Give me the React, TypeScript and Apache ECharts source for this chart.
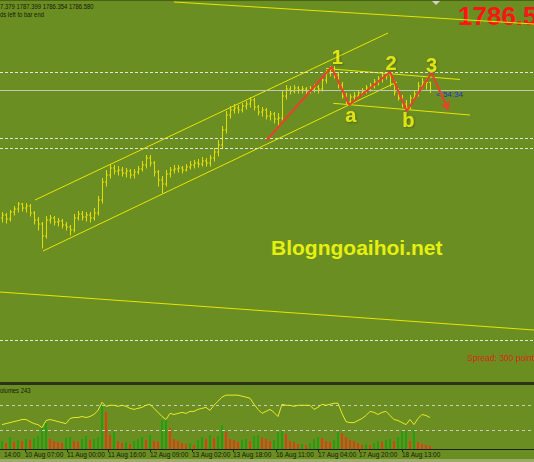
import React, { useEffect, useRef } from "react";
import * as echarts from "echarts";

const FONT = "'Liberation Sans', Arial, sans-serif";

// ---- H1 price bars (OHLC) ----
const barOpen = [
  1773.8, 1774.1, 1773.7, 1774.4, 1774.7, 1775.2, 1774.8, 1775.0, 1774.3, 1773.6,
  1773.2, 1772.0, 1773.6, 1773.8, 1773.4, 1773.5, 1773.1, 1772.9, 1772.6, 1773.8,
  1774.2, 1773.9, 1774.1, 1773.8, 1774.3, 1775.6, 1777.4, 1778.1, 1778.8, 1778.5,
  1778.6, 1778.3, 1778.5, 1778.1, 1778.4, 1778.7, 1779.1, 1779.8, 1779.3, 1778.4,
  1777.6, 1777.2, 1778.2, 1778.6, 1778.7, 1778.8, 1778.6, 1778.9, 1779.1, 1779.3,
  1779.2, 1779.5, 1779.3, 1779.8, 1780.4, 1781.1, 1782.6, 1784.1, 1784.6, 1784.8,
  1784.6, 1785.0, 1785.2, 1785.6, 1784.9, 1784.4, 1784.6, 1784.0, 1784.2, 1783.7,
  1783.8, 1786.0, 1786.7, 1786.5, 1786.8, 1786.6, 1786.7, 1786.5, 1786.7, 1786.9,
  1786.7, 1787.6, 1788.3, 1788.7, 1788.1, 1787.1, 1786.0, 1785.4, 1785.9, 1786.0,
  1786.3, 1786.5, 1786.8, 1787.0, 1787.4, 1787.7, 1788.0, 1788.1, 1787.2, 1786.4,
  1785.8, 1785.2, 1784.8, 1785.8, 1786.2, 1787.0, 1787.4, 1787.379,
];
const barHigh = [
  1774.4, 1774.3, 1774.6, 1775.0, 1775.4, 1775.3, 1775.3, 1775.2, 1774.5, 1773.9,
  1773.4, 1774.0, 1774.1, 1774.0, 1773.8, 1773.7, 1773.4, 1773.1, 1774.2, 1774.5,
  1774.5, 1774.4, 1774.4, 1774.8, 1776.0, 1777.8, 1778.6, 1779.2, 1779.1, 1779.0,
  1778.9, 1778.8, 1778.7, 1778.7, 1779.0, 1779.5, 1780.1, 1780.1, 1779.5, 1778.6,
  1778.0, 1778.6, 1778.9, 1779.1, 1779.1, 1779.0, 1779.2, 1779.5, 1779.6, 1779.7,
  1779.9, 1779.8, 1780.1, 1780.8, 1781.6, 1783.0, 1784.5, 1785.0, 1785.2, 1785.1,
  1785.3, 1785.5, 1785.9, 1785.8, 1785.1, 1784.9, 1784.8, 1784.5, 1784.4, 1784.3,
  1786.6, 1787.1, 1787.0, 1787.1, 1787.0, 1787.0, 1786.9, 1787.0, 1787.2, 1787.1,
  1787.9, 1788.6, 1789.0, 1789.0, 1788.4, 1787.4, 1786.3, 1786.2, 1786.4, 1786.6,
  1786.8, 1787.1, 1787.3, 1787.7, 1788.0, 1788.3, 1788.4, 1788.3, 1787.6, 1786.8,
  1786.1, 1785.6, 1786.1, 1786.6, 1787.4, 1787.8, 1787.7, 1787.399,
];
const barLow = [
  1773.4, 1773.3, 1773.5, 1774.1, 1774.4, 1774.5, 1774.4, 1774.0, 1773.2, 1772.6,
  1770.8, 1771.8, 1773.3, 1773.1, 1773.0, 1772.8, 1772.6, 1772.1, 1772.4, 1773.6,
  1773.6, 1773.5, 1773.4, 1773.6, 1774.1, 1775.3, 1777.0, 1777.8, 1778.2, 1778.1,
  1778.0, 1777.9, 1777.8, 1777.8, 1778.2, 1778.5, 1778.8, 1779.0, 1778.0, 1777.0,
  1776.3, 1777.0, 1777.9, 1778.3, 1778.4, 1778.3, 1778.5, 1778.7, 1778.8, 1778.9,
  1779.0, 1779.0, 1779.0, 1779.5, 1780.0, 1780.8, 1782.3, 1783.8, 1784.3, 1784.3,
  1784.4, 1784.7, 1784.9, 1784.6, 1784.1, 1784.0, 1783.7, 1783.6, 1783.3, 1782.9,
  1783.6, 1785.7, 1786.2, 1786.3, 1786.3, 1786.3, 1786.2, 1786.3, 1786.4, 1786.3,
  1786.5, 1787.3, 1788.0, 1787.8, 1786.8, 1785.8, 1785.2, 1785.3, 1785.6, 1785.8,
  1786.1, 1786.3, 1786.5, 1786.8, 1787.1, 1787.4, 1787.7, 1787.0, 1786.1, 1785.6,
  1784.9, 1784.6, 1784.7, 1785.6, 1786.0, 1786.8, 1786.7, 1786.354,
];
const barClose = [
  1774.1, 1773.7, 1774.4, 1774.7, 1775.2, 1774.8, 1775.0, 1774.3, 1773.6, 1773.2,
  1772.0, 1773.6, 1773.8, 1773.4, 1773.5, 1773.1, 1772.9, 1772.6, 1773.8, 1774.2,
  1773.9, 1774.1, 1773.8, 1774.3, 1775.6, 1777.4, 1778.1, 1778.8, 1778.5, 1778.6,
  1778.3, 1778.5, 1778.1, 1778.4, 1778.7, 1779.1, 1779.8, 1779.3, 1778.4, 1777.6,
  1777.2, 1778.2, 1778.6, 1778.7, 1778.8, 1778.6, 1778.9, 1779.1, 1779.3, 1779.2,
  1779.5, 1779.3, 1779.8, 1780.4, 1781.1, 1782.6, 1784.1, 1784.6, 1784.8, 1784.6,
  1785.0, 1785.2, 1785.6, 1784.9, 1784.4, 1784.6, 1784.0, 1784.2, 1783.7, 1783.8,
  1786.0, 1786.7, 1786.5, 1786.8, 1786.6, 1786.7, 1786.5, 1786.7, 1786.9, 1786.7,
  1787.6, 1788.3, 1788.7, 1788.1, 1787.1, 1786.0, 1785.4, 1785.9, 1786.0, 1786.3,
  1786.5, 1786.8, 1787.0, 1787.4, 1787.7, 1788.0, 1788.1, 1787.2, 1786.4, 1785.8,
  1785.2, 1784.8, 1785.8, 1786.2, 1787.0, 1787.4, 1787.35, 1786.58,
];

// ---- lower window: tick volumes and RSI ----
const tickVolume = [
  640, 470, 960, 560, 720, 650, 800, 710, 880, 1040, 1760, 2080, 800, 640, 560, 480, 880, 960, 650, 560,
  800, 1040, 720, 800, 960, 3520, 2960, 1120, 1360, 640, 480, 560, 400, 640, 800, 960, 720, 1120, 640, 560,
  2320, 2480, 1680, 800, 640, 480, 400, 480, 320, 720, 960, 800, 1120, 880, 1040, 1920, 1360, 800, 720, 560,
  720, 800, 640, 1040, 1120, 960, 800, 640, 720, 1360, 1440, 1200, 640, 560, 400, 400, 320, 480, 800, 960,
  880, 640, 560, 720, 1360, 1280, 960, 720, 640, 480, 320, 400, 320, 480, 640, 560, 720, 800, 640, 960,
  1440, 1440, 640, 1600, 560, 400, 320, 243,
];
const rsiValues = [
  38.7, 40.3, 41.9, 43.5, 45, 46.8, 46.8, 43.5, 40.3, 38.7, 33.9, 45.2, 46.8, 45.2, 43.5, 41.9, 40.3, 48.4, 50, 50,
  51.6, 50, 51.6, 55, 61.3, 74.2, 67.7, 69.4, 69.4, 67.7, 69.4, 67.7, 64.5, 62.9, 64.5, 66.1, 69.4, 71, 64.5, 58.1,
  51.6, 46.8, 56.5, 54.8, 56.5, 58.1, 56.5, 59.7, 59.7, 62.9, 64.5, 66.1, 61.3, 69.4, 75.8, 82.3, 85.5, 85.5, 85.5, 85.5,
  83.9, 82.3, 80.6, 71, 62.9, 56.5, 59.7, 62.9, 58.1, 51.6, 71, 69.4, 69.4, 67.7, 69.4, 69.4, 69.4, 69.4, 62.9, 66.1,
  71, 69.4, 71, 72.6, 72.6, 56.5, 43.5, 41.9, 41.9, 45.2, 48.4, 53.2, 59.7, 58.1, 54.8, 58.1, 59.7, 53.2, 46.8, 45.2,
  41.9, 38.7, 46.8, 38.7, 48.4, 54.8, 53.2, 50,
];
const rsiLevels = [70, 30];

// ---- time scale ----
const timeTickPos = [5.75, 16.25, 26.5, 37, 47.5, 57.75, 68.5, 79, 89.25, 100];
const timeTickLabels = [
  "10 Aug 07:00", "11 Aug 00:00", "11 Aug 16:00", "12 Aug 09:00", "13 Aug 02:00",
  "13 Aug 18:00", "16 Aug 11:00", "17 Aug 04:00", "17 Aug 20:00", "18 Aug 13:00",
];

// ---- drawn objects (bar index, price) ----
const upperChannel = [[8.25, 1775.6], [96.5, 1792.3]];
const lowerChannel = [[10.25, 1770.5], [98.75, 1787.4]];
const miniChannelTop = [[81, 1788.75], [114.5, 1787.65]];
const miniChannelBottom = [[82.8, 1785.27], [117, 1784.1]];
const outerTop = [[43, 1795.4], [133, 1793.2]];
const outerBottom = [[-0.5, 1766.4], [133, 1762.6]];
const waveZigzag = [[66.2, 1781.6], [82.4, 1788.9], [86.8, 1785.1], [97, 1788.4], [101.2, 1784.5], [107.4, 1788.3]];
const waveArrow = [[107.4, 1788.3], [111.6, 1784.6]];
const waveLabels = [
  { name: "1", value: [83.8, 1789.9] },
  { name: "2", value: [97.25, 1789.3] },
  { name: "3", value: [107.4, 1789.1] },
  { name: "a", value: [87.2, 1784.1] },
  { name: "b", value: [101.6, 1783.6] },
];
const dashedLevels = [1788.4, 1781.8, 1780.8, 1761.6];
const bidPrice = 1786.58;

const BG = "#6b8e23";
const YELLOW = "#e2dc00";

export default function App() {
  const ref = useRef<HTMLDivElement>(null);

  useEffect(() => {
    document.body.style.margin = "0";
    const chart = echarts.init(ref.current!, undefined, { renderer: "svg" });

    const priceData = barOpen.map((o, i) => [i, o, barHigh[i], barLow[i], barClose[i]]);
    const volData = tickVolume.map((v, i) => ({
      value: [i, v],
      itemStyle: { color: i === 0 || v >= tickVolume[i - 1] ? "#21a10f" : "#ea3a14" },
    }));
    const rsiData = rsiValues.map((v, i) => [i, v]);

    const trend = (data: number[][]) => ({
      type: "line",
      xAxisIndex: 0,
      yAxisIndex: 0,
      data,
      symbol: "none",
      silent: true,
      lineStyle: { color: "#e6e600", width: 1 },
      z: 3,
    });

    const option: any = {
      animation: false,
      backgroundColor: BG,
      grid: [
        { left: 0, right: 0, top: 0, height: 380 },
        { left: 0, right: 0, top: 386, height: 63 },
      ],
      xAxis: [
        { type: "value", gridIndex: 0, min: -0.5, max: 133, show: false },
        {
          type: "value",
          gridIndex: 1,
          min: -0.5,
          max: 133,
          axisLine: { show: true, onZero: false, lineStyle: { color: "#1e220c", width: 1 } },
          axisTick: { show: true, customValues: timeTickPos, length: 3, lineStyle: { color: "#1e220c" } },
          axisLabel: {
            show: true,
            customValues: timeTickPos,
            formatter: (v: number) => {
              const k = timeTickPos.findIndex((t) => Math.abs(t - v) < 1e-6);
              return k >= 0 ? timeTickLabels[k] : "";
            },
            align: "left",
            margin: 2,
            fontSize: 6.5,
            fontFamily: FONT,
            color: "#161a08",
          },
          splitLine: { show: false },
        },
      ],
      yAxis: [
        { type: "value", gridIndex: 0, min: 1757.6, max: 1795.6, show: false },
        { type: "value", gridIndex: 1, min: 0, max: 5040, show: false },
        { type: "value", gridIndex: 1, min: 0, max: 100, show: false },
      ],
      series: [
        {
          ...trend(outerTop),
          markLine: {
            silent: true,
            symbol: "none",
            label: { show: false },
            data: [
              ...dashedLevels.map((p) => ({
                yAxis: p,
                lineStyle: { color: "#e4e4dc", type: [3, 2], width: 1 },
              })),
              { yAxis: bidPrice, lineStyle: { color: "#c4c8b4", type: "solid", width: 1 } },
            ],
          },
        },
        trend(outerBottom),
        trend(upperChannel),
        trend(lowerChannel),
        trend(miniChannelTop),
        trend(miniChannelBottom),
        {
          type: "custom",
          xAxisIndex: 0,
          yAxisIndex: 0,
          data: priceData,
          encode: { x: 0, y: [1, 2, 3, 4] },
          z: 4,
          renderItem: (_params: any, api: any) => {
            const x = api.value(0);
            const o = api.coord([x, api.value(1)]);
            const h = api.coord([x, api.value(2)]);
            const l = api.coord([x, api.value(3)]);
            const c = api.coord([x, api.value(4)]);
            const px = Math.round(o[0]) + 0.5;
            const st = { stroke: YELLOW, lineWidth: 1 };
            return {
              type: "group",
              children: [
                { type: "line", shape: { x1: px, y1: h[1], x2: px, y2: l[1] + 0.5 }, style: st },
                { type: "line", shape: { x1: px - 1.5, y1: o[1], x2: px, y2: o[1] }, style: st },
                { type: "line", shape: { x1: px, y1: c[1], x2: px + 1.5, y2: c[1] }, style: st },
              ],
            };
          },
        },
        {
          type: "line",
          xAxisIndex: 0,
          yAxisIndex: 0,
          data: waveZigzag,
          symbol: "none",
          silent: true,
          z: 6,
          lineStyle: { color: "#e8412c", width: 2 },
          markLine: {
            silent: true,
            symbol: ["none", "arrow"],
            symbolSize: 8,
            label: { show: false },
            lineStyle: { color: "#e8412c", width: 2, type: "solid" },
            data: [[{ coord: waveArrow[0] }, { coord: waveArrow[1] }]],
          },
        },
        {
          type: "scatter",
          xAxisIndex: 0,
          yAxisIndex: 0,
          data: waveLabels,
          symbolSize: 1,
          itemStyle: { color: "rgba(0,0,0,0)" },
          silent: true,
          z: 7,
          label: {
            show: true,
            position: "inside",
            formatter: "{b}",
            fontSize: 20,
            fontWeight: "bold",
            fontFamily: FONT,
            color: "#fafa14",
            textShadowColor: "rgba(40,50,0,0.5)",
            textShadowBlur: 2,
            textShadowOffsetX: 1,
            textShadowOffsetY: 1,
          },
        },
        {
          type: "bar",
          xAxisIndex: 1,
          yAxisIndex: 1,
          data: volData,
          barWidth: 2,
          silent: true,
        },
        {
          type: "line",
          xAxisIndex: 1,
          yAxisIndex: 2,
          data: rsiData,
          symbol: "none",
          silent: true,
          lineStyle: { color: "#e8e82a", width: 1 },
          z: 5,
          markLine: {
            silent: true,
            symbol: "none",
            label: { show: false },
            lineStyle: { color: "#c8ccb8", type: [3, 3], width: 1 },
            data: rsiLevels.map((v) => ({ yAxis: v })),
          },
        },
      ],
      graphic: [
        { type: "rect", shape: { x: 0, y: 0, width: 534, height: 1 }, style: { fill: "#4a6218" }, silent: true },
        { type: "rect", shape: { x: 0, y: 382, width: 534, height: 3 }, style: { fill: "#2c3214" }, silent: true },
        { type: "rect", shape: { x: 0, y: 459, width: 534, height: 3 }, style: { fill: "#9cab68" }, silent: true },
        {
          type: "polygon",
          shape: { points: [[432, 1], [440, 1], [436, 5]] },
          style: { fill: "#cfd2c8" },
          silent: true,
        },
        {
          type: "text",
          x: 0,
          y: 6,
          scaleX: 0.74,
          silent: true,
          style: { text: "7.379 1787.399 1786.354 1786.580", font: `8px ${FONT}`, fill: "#161a08", verticalAlign: "middle" },
        },
        {
          type: "text",
          x: 0,
          y: 14.5,
          scaleX: 0.74,
          silent: true,
          style: { text: "ds left to bar end", font: `8px ${FONT}`, fill: "#161a08", verticalAlign: "middle" },
        },
        {
          type: "text",
          x: 458,
          y: 16,
          silent: true,
          style: { text: "1786.58", font: `bold 26px ${FONT}`, fill: "#ff1414", verticalAlign: "middle" },
        },
        {
          type: "text",
          x: 436,
          y: 94,
          silent: true,
          style: { text: "< 54:34", font: `8px ${FONT}`, fill: "#2030c8", verticalAlign: "middle" },
        },
        {
          type: "text",
          x: 271,
          y: 247,
          silent: true,
          style: {
            text: "Blogngoaihoi.net",
            font: `bold 21px ${FONT}`,
            fill: "#e6f010",
            verticalAlign: "middle",
            shadowColor: "rgba(30,40,0,0.7)",
            shadowBlur: 3,
            shadowOffsetX: 1,
            shadowOffsetY: 2,
          },
        },
        {
          type: "text",
          x: 467,
          y: 357.5,
          silent: true,
          style: { text: "Spread: 300 points", font: `8.5px ${FONT}`, fill: "#d82a10", verticalAlign: "middle" },
        },
        {
          type: "text",
          x: 0,
          y: 390,
          scaleX: 0.74,
          silent: true,
          style: { text: "olumes 243", font: `8px ${FONT}`, fill: "#161a08", verticalAlign: "middle" },
        },
        {
          type: "text",
          x: 4,
          y: 454.5,
          silent: true,
          style: { text: "14:00", font: `6.5px ${FONT}`, fill: "#161a08", verticalAlign: "middle" },
        },
      ],
    };

    chart.setOption(option);
    return () => chart.dispose();
  }, []);

  return <div ref={ref} style={{ width: 534, height: 462, background: BG }} />;
}
